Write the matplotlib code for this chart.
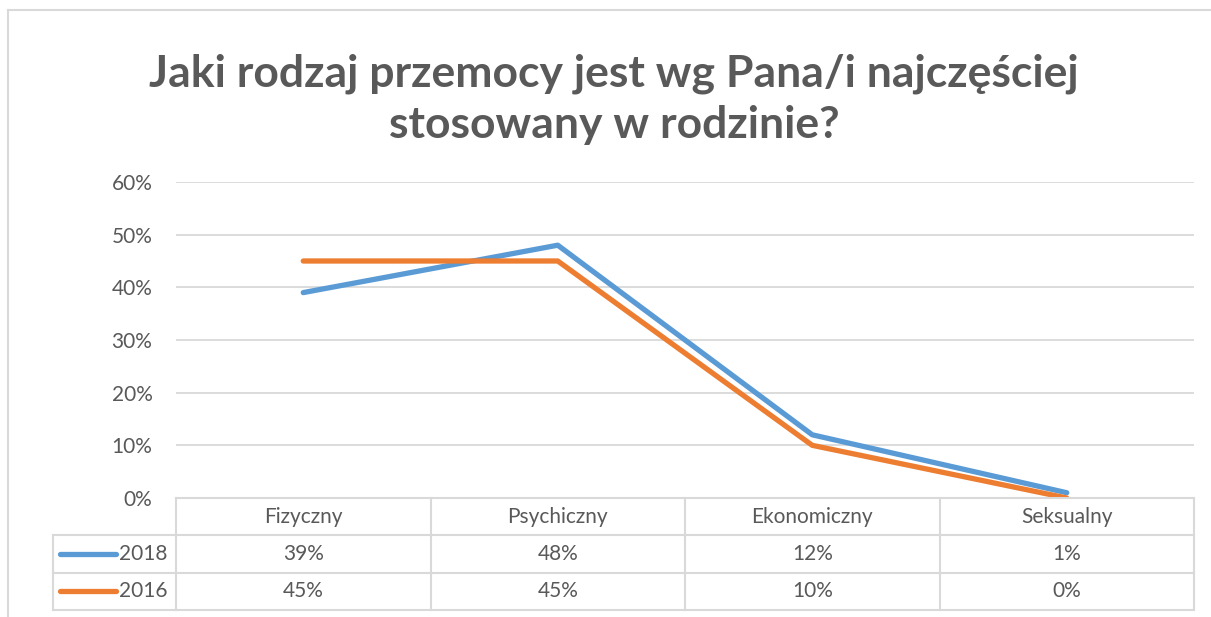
import matplotlib
matplotlib.use("Agg")
import matplotlib.pyplot as plt
from matplotlib.lines import Line2D
from matplotlib.ticker import FuncFormatter

plt.rcParams['font.family'] = ['Lato', 'DejaVu Sans']

TITLE = "Jaki rodzaj przemocy jest wg Pana/i najczęściej\nstosowany w rodzinie?"
categories = ["Fizyczny", "Psychiczny", "Ekonomiczny", "Seksualny"]
series_names = ["2018", "2016"]
values_2018 = [39, 48, 12, 1]
values_2016 = [45, 45, 10, 0]
colors = ["#5B9BD5", "#ED7D31"]
yticks = [0, 10, 20, 30, 40, 50, 60]

TEXT = "#595959"
GRID = "#D9D9D9"
FS = 15

W, H = 1211, 617
fig = plt.figure(figsize=(W / 100, H / 100), dpi=100)

def fx(px):
    return px / W

def fy(py):
    return 1 - py / H

# outer chart frame (left and top visible)
fig.add_artist(Line2D([fx(8), fx(8)], [0, fy(10)], color=GRID, lw=1.5))
fig.add_artist(Line2D([fx(8), fx(1210)], [fy(10), fy(10)], color=GRID, lw=1.5))

fig.text(0.507, fy(99), TITLE, ha="center", va="center", fontsize=32,
         fontweight="bold", color=TEXT, linespacing=1.33)

# main plot
ax = fig.add_axes([fx(176), fy(498), fx(1194) - fx(176), fy(182) - fy(498)])
x = list(range(len(categories)))
ax.plot(x, values_2018, color=colors[0], lw=3.8, solid_capstyle="round", zorder=3)
ax.plot(x, values_2016, color=colors[1], lw=3.8, solid_capstyle="round", zorder=4)
ax.set_xlim(-0.5, len(categories) - 0.5)
ax.set_ylim(0, 60)
ax.set_yticks(yticks)
ax.yaxis.set_major_formatter(FuncFormatter(lambda v, p: f"{v:.0f}%"))
ax.tick_params(axis="y", length=0, labelsize=FS, labelcolor=TEXT, pad=17)
ax.set_xticks([])
ax.grid(axis="y", color=GRID, lw=1.3)
for s in ax.spines.values():
    s.set_visible(False)

# data table below
tax = fig.add_axes([fx(176), fy(610), fx(1194) - fx(176), fy(498) - fy(610)])
tax.set_xlim(-0.5, len(categories) - 0.5)
tax.set_ylim(3, 0)
tax.axis("off")
left = -0.5 - 123 / 254.5
lkw = dict(color=GRID, lw=1.5, clip_on=False)
tax.plot([-0.5, 3.5], [0, 0], **lkw)
for r in (1, 2, 3):
    tax.plot([left, 3.5], [r, r], **lkw)
tax.plot([left, left], [1, 3], **lkw)
for c in range(len(categories) + 1):
    tax.plot([c - 0.5, c - 0.5], [0, 3], **lkw)

for i, cat in enumerate(categories):
    tax.text(i, 0.5, cat, ha="center", va="center", fontsize=FS, color=TEXT)
for r, (name, vals, col) in enumerate(zip(series_names, [values_2018, values_2016], colors)):
    y = 1.5 + r
    tax.plot([left + 7 / 254.5, left + 63 / 254.5], [y, y], color=col, lw=3.8,
             solid_capstyle="round", clip_on=False)
    tax.text(-0.5 - 9 / 254.5, y, name, ha="right", va="center", fontsize=FS, color=TEXT)
    for i, v in enumerate(vals):
        tax.text(i, y, f"{v}%", ha="center", va="center", fontsize=FS, color=TEXT)

fig.savefig("out.png", dpi=100)
